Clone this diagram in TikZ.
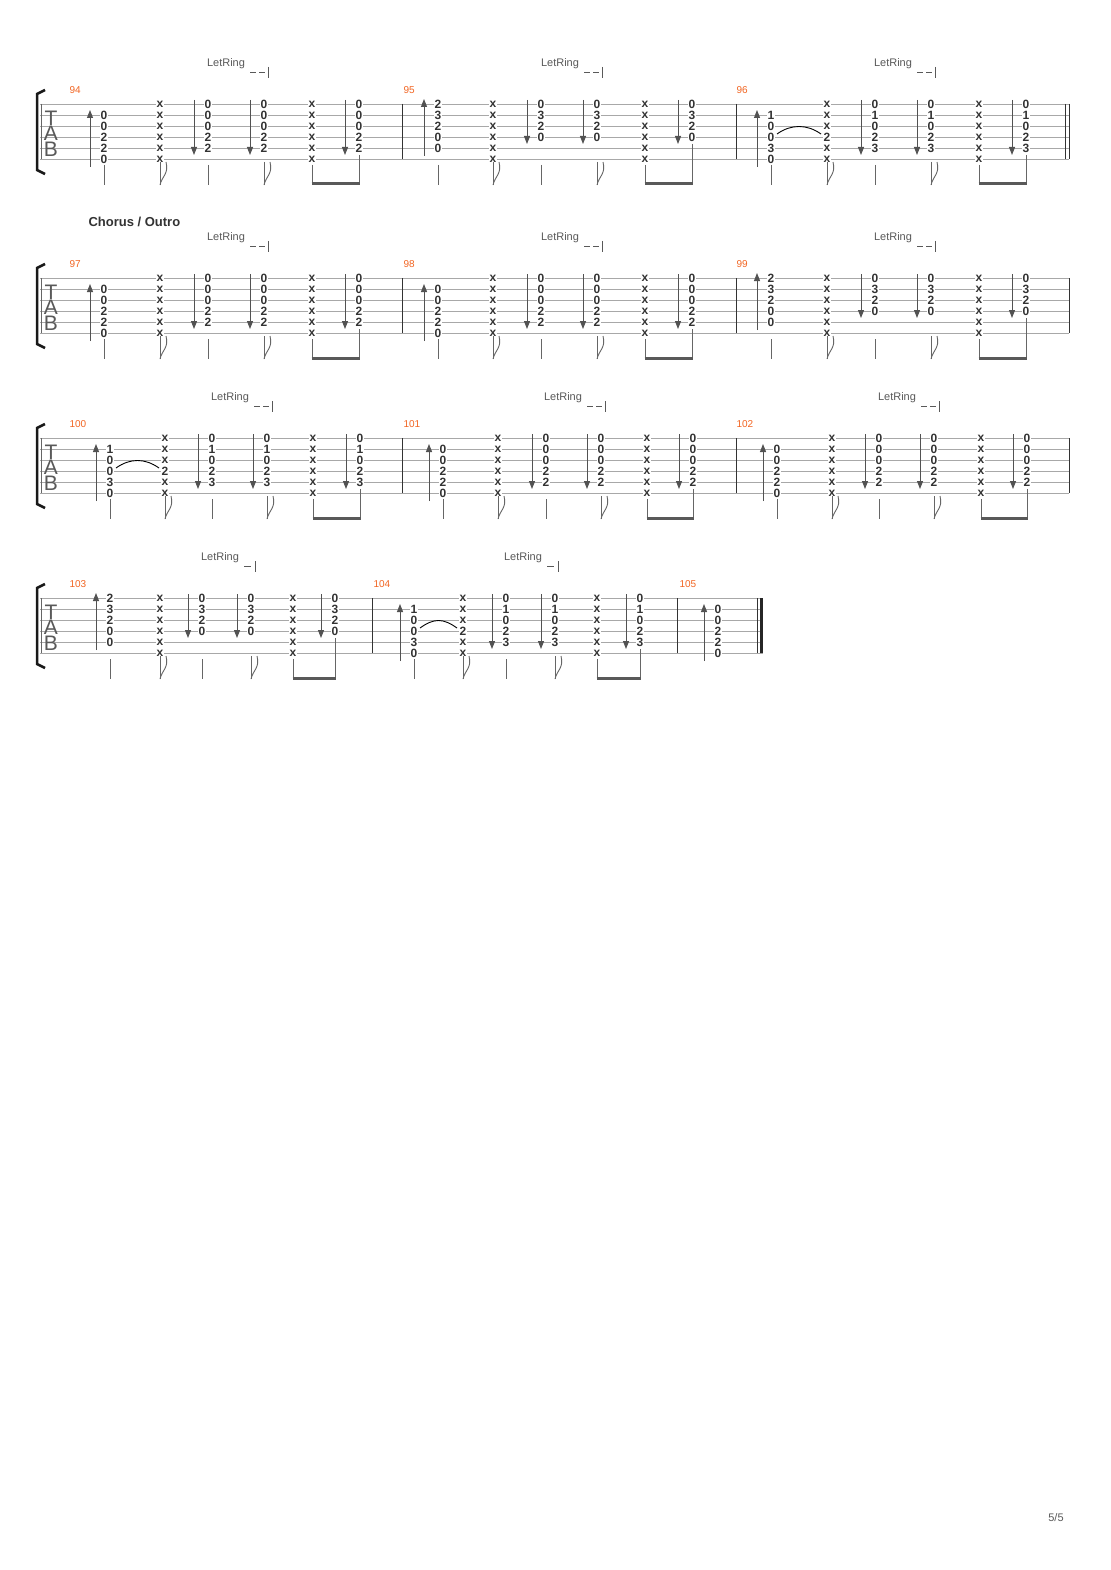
\documentclass[tikz,border=0pt]{standalone}
\usepackage{fontspec}
\usetikzlibrary{arrows.meta}
\newfontfamily\tabf{Liberation Sans}
\definecolor{orng}{HTML}{F26522}
\definecolor{lin}{HTML}{A8A8A8}
\definecolor{ink}{HTML}{333333}
\tikzset{
 fret/.style={font=\tabf\bfseries\fontsize{12}{12}\selectfont,text=ink,inner sep=0.2pt,fill=white},
 arr/.style={draw=ink!85,line width=1pt,-{Triangle[width=6pt,length=8pt]}},
 stemc/.style={draw=black!60,line width=1pt},
 beamc/.style={draw=black!65,line width=3pt},
 mnum/.style={font=\tabf\fontsize{10}{10}\selectfont,text=orng,anchor=west},
 lring/.style={font=\tabf\fontsize{11}{11}\selectfont,text=black!65},
 staffl/.style={draw=lin,line width=0.8pt},
 barl/.style={draw=black!80,line width=1pt},
 tabl/.style={font=\tabf\fontsize{21}{21}\selectfont,text=black!65,inner sep=0pt}
}
% chord data
\def\cAI{2/0,3/0,4/2,5/2,6/0}\def\cAII{1/x,2/x,3/x,4/x,5/x,6/x}\def\cAIII{1/0,2/0,3/0,4/2,5/2}
\def\hA{2}\def\lA{6}\def\mA{5}
\def\cBI{1/2,2/3,3/2,4/0,5/0}\def\cBII{1/x,2/x,3/x,4/x,5/x,6/x}\def\cBIII{1/0,2/3,3/2,4/0}
\def\hB{1}\def\lB{5}\def\mB{4}
\def\cCI{2/1,3/0,4/0,5/3,6/0}\def\cCII{1/x,2/x,3/x,4/2,5/x,6/x}\def\cCIII{1/0,2/1,3/0,4/2,5/3}
\def\hC{2}\def\lC{6}\def\mC{5}
\def\tieA#1#2#3{}\def\tieB#1#2#3{}
\def\tieC#1#2#3{\draw[black,line width=0.9pt] (#2+6,#1+30) .. controls (#2+20,#1+20) and (#3-20,#1+20) .. (#3-6,#1+30);}
\newcommand\xcol[2]{\foreach \s in {1,...,6}{\node[fret] at (#2,{#1+11*(\s-1)}) {x};}}
\newcommand\flagstem[2]{\draw[stemc] (#2,#1+58) -- (#2,#1+81);
 \draw[stemc,line width=0.9pt] (#2,#1+81) .. controls (#2+2,#1+72) and (#2+9,#1+70) .. (#2+6,#1+58);}
\newcommand\meas[8]{%
 \expandafter\let\expandafter\cI\csname c#8I\endcsname
 \expandafter\let\expandafter\cII\csname c#8II\endcsname
 \expandafter\let\expandafter\cIII\csname c#8III\endcsname
 \edef\hI{\csname h#8\endcsname}\edef\lI{\csname l#8\endcsname}\edef\lIII{\csname m#8\endcsname}%
 \foreach \s/\f in \cI {\node[fret] at (#2,{#1+11*(\s-1)}) {\f};}
 \draw[arr] (#2-14,{#1+11*(\lI-1)+8}) -- (#2-14,{#1+11*(\hI-1)-5});
 \draw[stemc] (#2,#1+61) -- (#2,#1+81);
 \foreach \s/\f in \cII {\node[fret] at (#3,{#1+11*(\s-1)}) {\f};}
 \flagstem{#1}{#3}
 \foreach \xx in {#4,#5,#7}{
  \foreach \s/\f in \cIII {\node[fret] at (\xx,{#1+11*(\s-1)}) {\f};}
  \draw[arr] (\xx-14,#1-4) -- (\xx-14,{#1+11*(\lIII-1)+7});}
 \draw[stemc] (#4,#1+61) -- (#4,#1+81);
 \flagstem{#1}{#5}
 \xcol{#1}{#6}
 \draw[stemc] (#6,#1+61) -- (#6,#1+81);
 \draw[stemc] (#7,{#1+11*(\lIII-1)+7}) -- (#7,#1+81);
 \draw[beamc] (#6-0.5,#1+80) -- (#7+0.5,#1+80);
 \csname tie#8\endcsname{#1}{#2}{#3}%
}
\newcommand\tabstaff[2]{% top, right end
 \foreach \k in {0,...,5}{\draw[staffl] (40,#1+11*\k) -- (#2,#1+11*\k);}
 \draw[black!60,line width=0.8pt] (41,#1) -- (41,#1+55);
 \draw[line width=2.5pt,black!90] (45,#1-14) -- (37,#1-10) -- (37,#1+66) -- (45,#1+70);
 \node[tabl] at (51,#1+14) {T};
 \node[tabl] at (51,#1+29) {A};
 \node[tabl] at (51,#1+45) {B};}
\newcommand\letring[3]{% top, center x, dashes(1/0)
 \node[lring] at (#2,#1-40) {LetRing};
 \ifnum#3=1
  \draw[black!65,line width=0.9pt] (#2+24,#1-32) -- (#2+30,#1-32) (#2+33,#1-32) -- (#2+39,#1-32);
  \draw[black!65,line width=0.9pt] (#2+42,#1-37) -- (#2+42,#1-26);
 \else
  \draw[black!65,line width=0.9pt] (#2+24,#1-32) -- (#2+31,#1-32);
  \draw[black!65,line width=0.9pt] (#2+35,#1-37) -- (#2+35,#1-26);
 \fi}
\newcommand\barln[2]{\draw[barl] (#2,#1) -- (#2,#1+55);}
\begin{document}
\begin{tikzpicture}[x=1pt,y=-1pt]
\useasboundingbox[fill=white] (0,0) rectangle (1110,1570);
% system 1
\tabstaff{104}{1069}
\node[mnum] at (66,90) {94};\node[mnum] at (400,90) {95};\node[mnum] at (733,90) {96};
\letring{104}{226}{1}\letring{104}{560}{1}\letring{104}{893}{1}
\meas{104}{104}{160}{208}{264}{312}{359}{A}
\meas{104}{438}{493}{541}{597}{645}{692}{B}
\meas{104}{771}{827}{875}{931}{979}{1026}{C}
\barln{104}{402}\barln{104}{736}\barln{104}{1065}\barln{104}{1069}
% system 2
\node[font=\tabf\bfseries\fontsize{13}{13}\selectfont,text=ink,anchor=west] at (85,222) {Chorus / Outro};
\tabstaff{278}{1069}
\node[mnum] at (66,264) {97};\node[mnum] at (400,264) {98};\node[mnum] at (733,264) {99};
\letring{278}{226}{1}\letring{278}{560}{1}\letring{278}{893}{1}
\meas{278}{104}{160}{208}{264}{312}{359}{A}
\meas{278}{438}{493}{541}{597}{645}{692}{A}
\meas{278}{771}{827}{875}{931}{979}{1026}{B}
\barln{278}{402}\barln{278}{736}\barln{278}{1069}
% system 3
\tabstaff{438}{1069}
\node[mnum] at (66,424) {100};\node[mnum] at (400,424) {101};\node[mnum] at (733,424) {102};
\letring{438}{230}{1}\letring{438}{563}{1}\letring{438}{897}{1}
\meas{438}{110}{165}{212}{267}{313}{360}{C}
\meas{438}{443}{498}{546}{601}{647}{693}{A}
\meas{438}{777}{832}{879}{934}{981}{1027}{A}
\barln{438}{402}\barln{438}{736}\barln{438}{1069}
% system 4
\tabstaff{598}{763}
\node[mnum] at (66,584) {103};\node[mnum] at (370,584) {104};\node[mnum] at (676,584) {105};
\letring{598}{220}{0}\letring{598}{523}{0}
\meas{598}{110}{160}{202}{251}{293}{335}{B}
\meas{598}{414}{463}{506}{555}{597}{640}{C}
\foreach \s/\f in \cAI {\node[fret] at (718,{598+11*(\s-1)}) {\f};}
\draw[arr] (704,661) -- (704,604);
\barln{598}{372}\barln{598}{677}\barln{598}{757}
\draw[black!85,line width=3pt] (761.5,598) -- (761.5,653);
\node[font=\tabf\fontsize{11}{11}\selectfont,text=black!65] at (1056,1518) {5/5};
\end{tikzpicture}
\end{document}
